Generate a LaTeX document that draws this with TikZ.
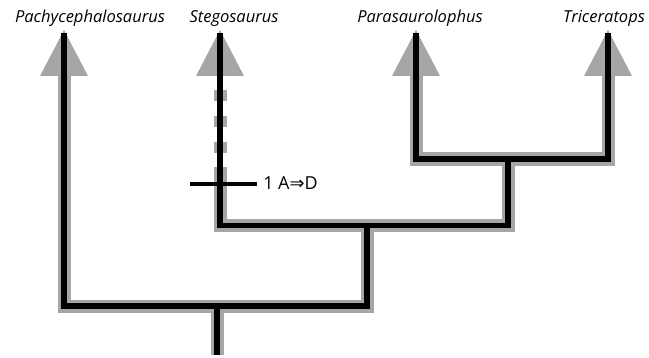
\documentclass[tikz,border=0pt]{standalone}
\usepackage{fontspec}
\setmainfont{Open Sans}
\newfontfamily\arrowfont{DejaVu Sans}
\usetikzlibrary{calc}

\begin{document}
\begin{tikzpicture}[x=0.02cm, y=-0.02cm,
  branch/.style={line width=3.4pt, black},
  shade/.style={line width=7.4pt, black!35, shift={(2,1)}},
  head/.style={fill=black!35},
  bar/.style={line width=2.5pt, black},
  taxon/.style={font=\fontsize{9.4}{11}\selectfont\itshape, anchor=base, inner sep=0pt},
  trait/.style={font=\fontsize{10.2}{12}\selectfont, anchor=base west, inner sep=0pt},
]
\useasboundingbox (0,0) rectangle (649,358);

% tips, joints, root
\coordinate (tp)  at (64,33);
\coordinate (ts)  at (220,33);
\coordinate (tpa) at (416,33);
\coordinate (tt)  at (608,33);
\coordinate (n3)  at (508,159);
\coordinate (n2)  at (367,225.5);
\coordinate (n1)  at (217,306);
\coordinate (root) at (217,355);
\coordinate (chg) at (220,184);

\node[taxon] (pachy) at (90,23)  {Pachycephalosaurus};
\node[taxon] (steg)  at (234,23) {Stegosaurus};
\node[taxon] (para)  at (420,23) {Parasaurolophus};
\node[taxon] (tric)  at (604,23) {Triceratops};

% grey arrowheads
\foreach \t in {tp,ts,tpa,tt}
  \fill[head] ($(\t)+(0,-3)$) -- ($(\t)+(-24,43)$) -- ($(\t)+(24,43)$) -- cycle;

% grey shadow of the branches
\draw[shade] ($(tp)+(0,43)$) |- (n2 |- n1) -- (n2);
\draw[shade, dash pattern=on 6.2pt off 8.5pt] ($(ts)+(0,57)$) -- ($(ts)+(0,135)$);
\draw[shade] ($(ts)+(0,135)$) |- (n3 |- n2) -- (n3);
\draw[shade] ($(tpa)+(0,43)$) |- (tt |- n3) -- ($(tt)+(0,43)$);
\draw[shade] (n1) -- (root);

% black branches
\draw[branch] (tp) |- (n2 |- n1) -- (n2);
\draw[branch] (ts) |- (n3 |- n2) -- (n3);
\draw[branch] (tpa) |- (tt |- n3) -- (tt);
\draw[branch] (n1) -- (root);

% character change
\node[trait] (chr) at (263,189) {1 A{\arrowfont ⇒}D};
\draw[bar] ($(chg)+(-30,0)$) -- ($(chr.west |- chg)+(-6,0)$);
\end{tikzpicture}
\end{document}
